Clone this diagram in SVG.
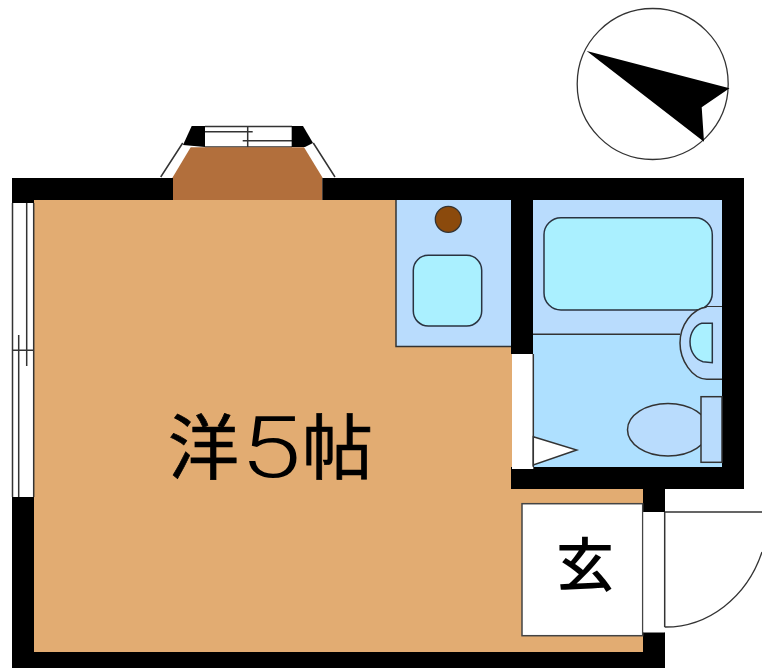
<svg xmlns="http://www.w3.org/2000/svg" width="762" height="668" viewBox="0 0 762 668">
<style>
.w{fill:#000}
.l{fill:none;stroke:#333;stroke-width:1.5}
.blue{fill:#b9dcfd;stroke:#333;stroke-width:1.5}
.aqua{fill:#aaf0ff;stroke:#2a3340;stroke-width:1.5}
.white{fill:#fff;stroke:#444;stroke-width:1.5}
.t{font-family:"Noto Sans CJK JP","Noto Sans",sans-serif;fill:#000}
.c{stroke:#000;stroke-width:.7}
.d{font-family:Roboto,"Liberation Sans",sans-serif;font-weight:300;fill:#000}
</style>
<rect width="762" height="668" fill="#fff"/>
<g id="compass">
<circle cx="652.7" cy="84" r="75.500" fill="#fff" stroke="#333" stroke-width="1.300"/>
<polygon points="586.700,51 729.500,88.300 701.700,107.300 704,141.700" fill="#000"/>
</g>
<g id="room">
<rect x="34" y="200" width="609" height="452" fill="#e2ac72"/>
<rect x="533" y="200" width="189" height="267" fill="#aee0ff"/>
</g>
<g id="bay-window">
<polygon points="160.700,177 182.700,143 205,147 190.700,178" fill="#fff"/>
<polygon points="335,177 313.300,143 292,147 322,178" fill="#fff"/>
<path class="l" d="M160.700,177 L182.700,143 M335,177 L313.300,143"/>
<rect x="205" y="126" width="87" height="21" fill="#fff"/>
<path class="l" d="M205,126.500H292M205,147H292M247.700,126V147M205,131.700H252.700M242.700,140.700H292"/>
<polygon class="w" points="191.700,126 205,126 205,147 183,145"/>
<polygon class="w" points="291.700,126 303,126 313,143 305,147 291.700,147"/>
<polygon points="190.700,147.300 304,147.300 322.300,177.300 322.300,200 172.700,200 172.700,177.300" fill="#b26f3c"/>
</g>
<g id="walls">
<rect class="w" x="12" y="178" width="161" height="22"/>
<rect class="w" x="322.300" y="178" width="421.700" height="22"/>
<rect class="w" x="12" y="178" width="22" height="25"/>
<rect class="w" x="12" y="497" width="22" height="171"/>
<rect class="w" x="12" y="652" width="653" height="16"/>
<rect class="w" x="722" y="178" width="22" height="311"/>
<rect class="w" x="511" y="467" width="233" height="22"/>
<rect class="w" x="511" y="200" width="22" height="154"/>
<rect class="w" x="643" y="489" width="22" height="23"/>
<rect class="w" x="643" y="632.300" width="22" height="35.700"/>
</g>
<g id="left-window">
<rect x="12" y="203" width="22" height="294" fill="#fff"/>
<path class="l" d="M12.500,203V497M33.700,203V497M26.700,203V366M18.700,335V497M12,350.300H34"/>
</g>
<g id="kitchen">
<path d="M396,200H511V346.500H396Z" fill="#b9dcfd"/>
<path class="l" d="M396,200V346.500H511"/>
<circle cx="448.300" cy="219.300" r="13" fill="#8b4a0c" stroke="#333" stroke-width="1.300"/>
<rect class="aqua" x="413.300" y="255.300" width="68.400" height="70.700" rx="15"/>
</g>
<g id="bath">
<rect x="533" y="200" width="189" height="134.300" fill="#b9dcfd"/>
<path class="l" d="M533,334.300H680M701,306.700H722"/>
<rect class="aqua" x="544" y="217.700" width="168.300" height="92.300" rx="17"/>
<path d="M722,379.300H706.700C692,379 680,360 680,343C680,325 692,309 706.700,307H722Z" fill="#b9dcfd"/>
<path class="l" d="M722,379.300H706.700C692,379 680,360 680,343C680,325 692,309 706.700,307"/>
<path class="aqua" d="M712.300,323.300H701.700C695,325 690,333 690,341.700C690,352 696,360 703,361.700L712.300,362.700Z"/>
<ellipse cx="668" cy="429.700" rx="40.500" ry="26.300" fill="#b9dcfd" stroke="#333" stroke-width="1.500"/>
<rect class="blue" x="701" y="396.700" width="21" height="65.600"/>
</g>
<g id="bath-door">
<rect x="512" y="354" width="21.300" height="115" fill="#fff"/>
<path class="l" d="M533.300,354V467"/>
<polygon points="533.300,436.700 576.700,450 533.300,465" fill="#fff" stroke="#333" stroke-width="1.500"/>
</g>
<g id="entrance">
<rect class="white" x="522" y="503.700" width="120.700" height="132"/>
<rect x="643.500" y="512" width="21" height="120.300" fill="#fff"/>
<path class="l" d="M664.700,512H762M664.700,512V627"/>
<path d="M664.700,627A103,115 0 0 0 762,552" fill="none" stroke="#333" stroke-width="1.300"/>
</g>
<g id="labels">
<text class="t c" x="168" y="473" font-size="71">洋</text>
<text class="d" transform="translate(240 477) scale(1.3 1)" font-size="85">5</text>
<text class="t c" x="302" y="473" font-size="71">帖</text>
<text class="t" x="556" y="586" font-size="58" font-weight="500">玄</text>
</g>
</svg>
